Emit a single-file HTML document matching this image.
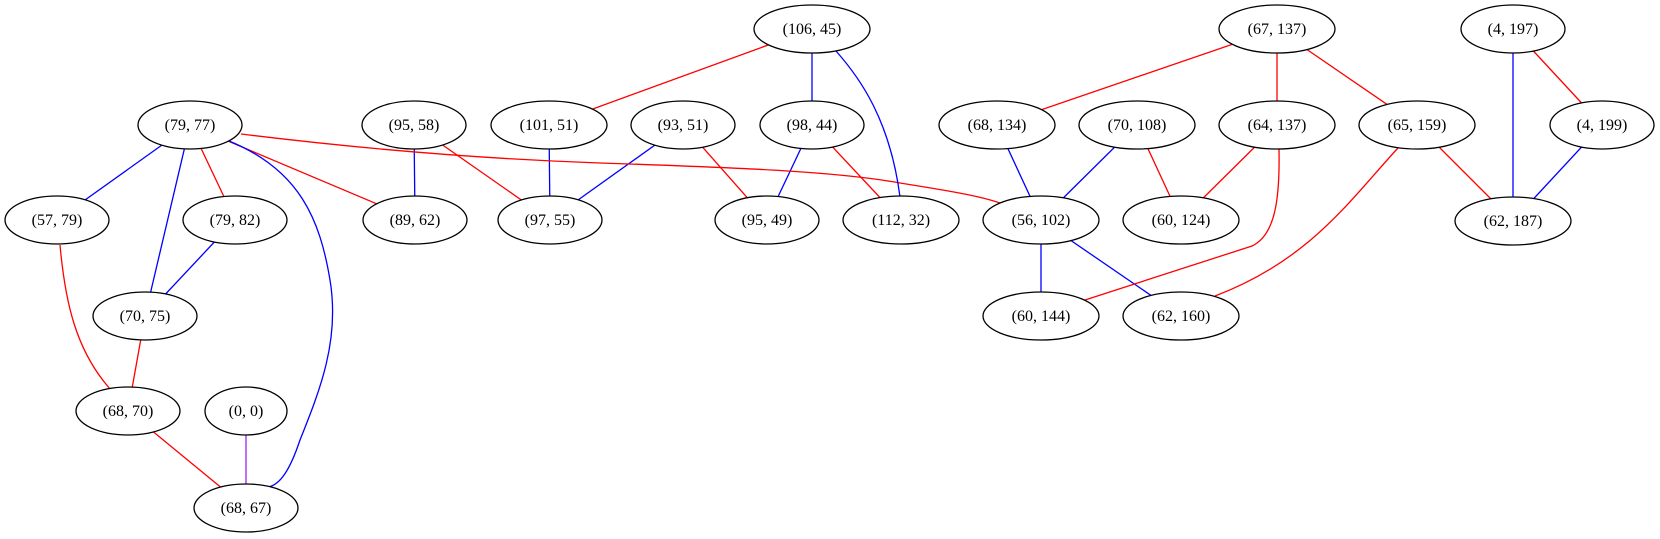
<!DOCTYPE html>
<html><head><meta charset="utf-8"><style>html,body{margin:0;padding:0;background:#fff}svg{display:block}</style></head>
<body>
<svg width="1660" height="539" viewBox="0 0 1660 539" xmlns="http://www.w3.org/2000/svg">
<g fill="none" stroke-width="1.3">
<line x1="812" y1="29" x2="549" y2="125" stroke="red"/>
<line x1="812" y1="29" x2="812" y2="125" stroke="blue"/>
<line x1="1277" y1="29" x2="997" y2="125" stroke="red"/>
<line x1="1277" y1="29" x2="1277" y2="125" stroke="red"/>
<line x1="1277" y1="29" x2="1417" y2="125" stroke="red"/>
<line x1="1513" y1="29" x2="1513" y2="221" stroke="blue"/>
<line x1="1513" y1="29" x2="1602" y2="125" stroke="red"/>
<line x1="1417" y1="125" x2="1513" y2="221" stroke="red"/>
<line x1="1602" y1="125" x2="1513" y2="221" stroke="blue"/>
<line x1="190" y1="125" x2="57" y2="220" stroke="blue"/>
<line x1="190" y1="125" x2="145" y2="316" stroke="blue"/>
<line x1="190" y1="125" x2="235" y2="220" stroke="red"/>
<line x1="190" y1="125" x2="415" y2="220" stroke="red"/>
<line x1="235" y1="220" x2="145" y2="316" stroke="blue"/>
<line x1="145" y1="316" x2="128" y2="411" stroke="red"/>
<line x1="128" y1="411" x2="246" y2="508" stroke="red"/>
<line x1="246" y1="411" x2="246" y2="508" stroke="#a020f0"/>
<line x1="414" y1="125" x2="415" y2="220" stroke="blue"/>
<line x1="414" y1="125" x2="550" y2="220" stroke="red"/>
<line x1="549" y1="125" x2="550" y2="220" stroke="blue"/>
<line x1="683" y1="125" x2="550" y2="220" stroke="blue"/>
<line x1="683" y1="125" x2="767" y2="220" stroke="red"/>
<line x1="812" y1="125" x2="767" y2="220" stroke="blue"/>
<line x1="812" y1="125" x2="901" y2="220" stroke="red"/>
<line x1="997" y1="125" x2="1041" y2="220" stroke="blue"/>
<line x1="1137" y1="125" x2="1041" y2="220" stroke="blue"/>
<line x1="1137" y1="125" x2="1181" y2="220" stroke="red"/>
<line x1="1277" y1="125" x2="1181" y2="220" stroke="red"/>
<line x1="1041" y1="220" x2="1041" y2="316" stroke="blue"/>
<line x1="1041" y1="220" x2="1181" y2="316" stroke="blue"/>
<path d="M241,134 C330,145 460,158 600,163 C750,168 840,172 900,183 C950,191 980,196 1000,203" stroke="red"/>
<path d="M229,141 C300,170 320,220 330,280 C340,340 320,390 300,440 C290,470 280,485 268,487" stroke="blue"/>
<path d="M60,245 C65,300 75,350 111,390" stroke="red"/>
<path d="M836,51 C860,78 890,120 900,197" stroke="blue"/>
<path d="M1279,149 C1280,200 1275,235 1252,246 L1085,300" stroke="red"/>
<path d="M1398,148 C1350,200 1310,260 1215,296" stroke="red"/>
</g>
<g fill="#fff" stroke="#000" stroke-width="1.3">
<ellipse cx="812" cy="29" rx="58" ry="24"/>
<ellipse cx="1277" cy="29" rx="58" ry="24"/>
<ellipse cx="1513" cy="29" rx="52" ry="24"/>
<ellipse cx="190" cy="125" rx="52" ry="24"/>
<ellipse cx="414" cy="125" rx="52" ry="24"/>
<ellipse cx="549" cy="125" rx="58" ry="24"/>
<ellipse cx="683" cy="125" rx="52" ry="24"/>
<ellipse cx="812" cy="125" rx="52" ry="24"/>
<ellipse cx="997" cy="125" rx="58" ry="24"/>
<ellipse cx="1137" cy="125" rx="58" ry="24"/>
<ellipse cx="1277" cy="125" rx="58" ry="24"/>
<ellipse cx="1417" cy="125" rx="58" ry="24"/>
<ellipse cx="1602" cy="125" rx="52" ry="24"/>
<ellipse cx="57" cy="220" rx="52" ry="24"/>
<ellipse cx="235" cy="220" rx="52" ry="24"/>
<ellipse cx="415" cy="220" rx="52" ry="24"/>
<ellipse cx="550" cy="220" rx="52" ry="24"/>
<ellipse cx="767" cy="220" rx="52" ry="24"/>
<ellipse cx="901" cy="220" rx="58" ry="24"/>
<ellipse cx="1041" cy="220" rx="58" ry="24"/>
<ellipse cx="1181" cy="220" rx="58" ry="24"/>
<ellipse cx="1513" cy="221" rx="58" ry="24"/>
<ellipse cx="145" cy="316" rx="52" ry="24"/>
<ellipse cx="1041" cy="316" rx="58" ry="24"/>
<ellipse cx="1181" cy="316" rx="58" ry="24"/>
<ellipse cx="128" cy="411" rx="52" ry="24"/>
<ellipse cx="246" cy="411" rx="41" ry="24"/>
<ellipse cx="246" cy="508" rx="52" ry="24"/>
</g>
<g font-family="Liberation Serif, serif" font-size="16" text-anchor="middle" fill="#000">
<text x="812" y="34">(106, 45)</text>
<text x="1277" y="34">(67, 137)</text>
<text x="1513" y="34">(4, 197)</text>
<text x="190" y="130">(79, 77)</text>
<text x="414" y="130">(95, 58)</text>
<text x="549" y="130">(101, 51)</text>
<text x="683" y="130">(93, 51)</text>
<text x="812" y="130">(98, 44)</text>
<text x="997" y="130">(68, 134)</text>
<text x="1137" y="130">(70, 108)</text>
<text x="1277" y="130">(64, 137)</text>
<text x="1417" y="130">(65, 159)</text>
<text x="1602" y="130">(4, 199)</text>
<text x="57" y="225">(57, 79)</text>
<text x="235" y="225">(79, 82)</text>
<text x="415" y="225">(89, 62)</text>
<text x="550" y="225">(97, 55)</text>
<text x="767" y="225">(95, 49)</text>
<text x="901" y="225">(112, 32)</text>
<text x="1041" y="225">(56, 102)</text>
<text x="1181" y="225">(60, 124)</text>
<text x="1513" y="226">(62, 187)</text>
<text x="145" y="321">(70, 75)</text>
<text x="1041" y="321">(60, 144)</text>
<text x="1181" y="321">(62, 160)</text>
<text x="128" y="416">(68, 70)</text>
<text x="246" y="416">(0, 0)</text>
<text x="246" y="513">(68, 67)</text>
</g>
</svg>
</body></html>
